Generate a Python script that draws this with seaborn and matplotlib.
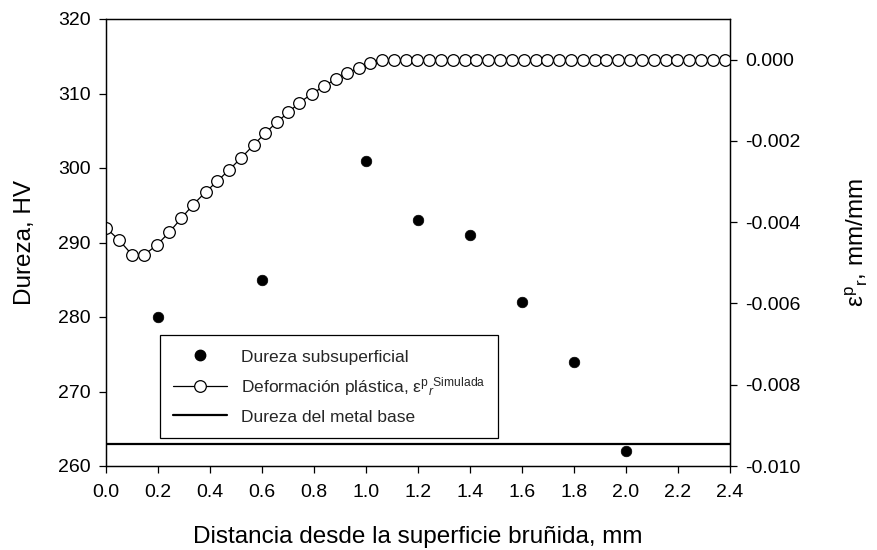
import matplotlib
matplotlib.use("Agg")
import matplotlib.pyplot as plt
from matplotlib.lines import Line2D
import seaborn as sns
import pandas as pd

# Measured subsurface hardness
distancia_mm = [0.2, 0.6, 1.0, 1.2, 1.4, 1.6, 1.8, 2.0]
dureza_hv = [280, 285, 301, 293, 291, 282, 274, 262]

# Base metal hardness
dureza_base_hv = 263

# Simulated radial plastic strain
x_sim_mm = [0.000, 0.050, 0.100, 0.148, 0.196, 0.243, 0.290, 0.335, 0.383, 0.428,
            0.474, 0.521, 0.568, 0.612, 0.657, 0.701, 0.744, 0.792, 0.837, 0.883,
            0.927, 0.972, 1.017, 1.062, 1.107, 1.153, 1.198, 1.244, 1.289, 1.335,
            1.380, 1.425, 1.471, 1.516, 1.562, 1.607, 1.653, 1.698, 1.744, 1.789,
            1.834, 1.880, 1.925, 1.971, 2.016, 2.062, 2.107, 2.153, 2.198, 2.243,
            2.289, 2.334, 2.380]
eps_sim = [-0.00414, -0.00444, -0.00480, -0.00480, -0.00456, -0.00425, -0.00390,
           -0.00357, -0.00326, -0.00299, -0.00271, -0.00241, -0.00210, -0.00181,
           -0.00154, -0.00130, -0.00106, -0.00084, -0.00066, -0.00048, -0.00034,
           -0.00020, -0.00008, 0.0, 0.0, 0.0, 0.0, 0.0, 0.0, 0.0, 0.0, 0.0, 0.0,
           0.0, 0.0, 0.0, 0.0, 0.0, 0.0, 0.0, 0.0, 0.0, 0.0, 0.0, 0.0, 0.0, 0.0,
           0.0, 0.0, 0.0, 0.0, 0.0, 0.0]

x_ticks = [0.0, 0.2, 0.4, 0.6, 0.8, 1.0, 1.2, 1.4, 1.6, 1.8, 2.0, 2.2, 2.4]
hv_ticks = [260, 270, 280, 290, 300, 310, 320]
eps_ticks = [0.000, -0.002, -0.004, -0.006, -0.008, -0.010]

sns.set_theme(style="ticks")
plt.rcParams["font.family"] = ["Liberation Sans", "DejaVu Sans"]
plt.rcParams["mathtext.fontset"] = "custom"
plt.rcParams["mathtext.rm"] = "Liberation Sans"
plt.rcParams["mathtext.it"] = "Liberation Sans:italic"
plt.rcParams["axes.unicode_minus"] = False

df_hv = pd.DataFrame({"x": distancia_mm, "hv": dureza_hv})
df_eps = pd.DataFrame({"x": x_sim_mm, "eps": eps_sim})

W, H = 878, 550
fig = plt.figure(figsize=(W / 100, H / 100), dpi=100)
ax = fig.add_axes([106 / W, 1 - 466 / H, 624 / W, 447 / H])
ax2 = ax.twinx()

sns.scatterplot(data=df_hv, x="x", y="hv", ax=ax, color="black",
                edgecolor="black", s=58, linewidth=0.5, zorder=3, legend=False)
ax.axhline(dureza_base_hv, color="black", lw=1.6, zorder=2)

sns.lineplot(data=df_eps, x="x", y="eps", ax=ax2, color="black", lw=0.9,
             marker="o", markersize=8.4, markerfacecolor="white",
             markeredgecolor="black", markeredgewidth=0.9, sort=False,
             legend=False)

ax.set_xlim(0, 2.4)
ax.set_ylim(260, 320)
ax2.set_ylim(-0.010, 0.001)

ax.set_xticks(x_ticks)
ax.set_xticklabels([f"{v:.1f}" for v in x_ticks])
ax.set_yticks(hv_ticks)
ax.set_yticklabels([str(v) for v in hv_ticks])
ax2.set_yticks(eps_ticks)
ax2.set_yticklabels([f"{v:.3f}" if v != 0 else "0.000" for v in eps_ticks])

for a in (ax, ax2):
    a.tick_params(direction="out", length=5, width=0.9, color="black",
                  labelsize=14, labelcolor="black", pad=6)
    for sp in a.spines.values():
        sp.set_visible(True)
        sp.set_color("black")
        sp.set_linewidth(0.9)
    a.grid(False)
ax.tick_params(axis="x", pad=8)

ax.set_xlabel("Distancia desde la superficie bruñida, mm", fontsize=17.5,
              color="black", va="center")
ax.xaxis.set_label_coords(0.5, (466 - 537) / 447)
ax.set_ylabel("Dureza, HV", fontsize=17.5, color="black", va="center")
ax.yaxis.set_label_coords((25 - 106) / 624, 0.5)
ax2.set_ylabel("ε$^{\\mathregular{p}}$$_{\\mathregular{r}}$, mm/mm", fontsize=17.5,
               color="black", va="center", rotation=90)
ax2.yaxis.set_label_coords((857 - 106) / 624, 0.5)

handles = [
    Line2D([], [], ls="none", marker="o", markersize=7.5, color="black"),
    Line2D([], [], color="black", lw=0.9, marker="o", markersize=8.4,
           markerfacecolor="white", markeredgecolor="black", markeredgewidth=0.9),
    Line2D([], [], color="black", lw=1.6),
]
labels = [
    "Dureza subsuperficial",
    "Deformación plástica, ε$^{\\mathregular{p}}$$_{\\mathit{r}}$$^{\\mathregular{Simulada}}$",
    "Dureza del metal base",
]
leg = ax2.legend(handles, labels, loc="upper left",
                 bbox_to_anchor=((160 - 106) / 624, (466 - 335) / 447),
                 borderaxespad=0, frameon=True, fancybox=False, framealpha=1,
                 edgecolor="black", fontsize=12.5, handlelength=3.1,
                 handleheight=1.0, handletextpad=0.8, borderpad=0.75,
                 labelspacing=0.6)
leg.get_frame().set_linewidth(0.9)

fig.savefig("out.png", dpi=100)
